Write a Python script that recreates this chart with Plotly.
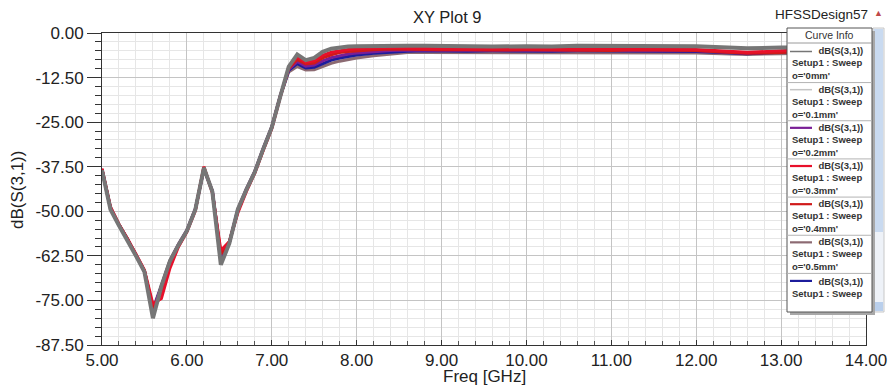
import plotly.graph_objects as go

# ---------------- data ----------------
freq = [5.0, 5.1, 5.2, 5.3, 5.4, 5.5, 5.6, 5.7, 5.8, 5.9, 6.0, 6.1, 6.2, 6.3, 6.4, 6.5,
        6.6, 6.7, 6.8, 6.9, 7.0, 7.1, 7.2, 7.3, 7.4, 7.5, 7.6, 7.7, 7.8, 7.9, 8.0, 8.2,
        8.4, 8.6, 8.8, 9.0, 9.3, 9.6, 10.0, 10.3, 10.6, 11.0, 11.3, 11.6, 12.0, 12.3,
        12.6, 13.0, 13.3, 13.6, 14.0]

s_0mm = [-38.5, -49.5, -54.0, -58.0, -62.5, -67.0, -80.0, -71.0, -64.0, -59.5, -55.5, -49.5,
         -37.8, -44.5, -65.0, -59.0, -49.5, -44.0, -39.0, -32.5, -26.5, -17.8, -9.4, -6.0,
         -7.6, -7.0, -5.3, -4.4, -4.0, -3.8, -3.7, -3.6, -3.6, -3.6, -3.6, -3.7, -3.7, -3.8,
         -3.7, -3.8, -3.6, -3.6, -3.7, -3.7, -3.7, -4.0, -4.3, -4.1, -4.0, -4.0, -4.0]
s_01mm = [-38.0, -48.5, -53.5, -57.5, -62.0, -66.5, -77.0, -70.5, -63.5, -59.0, -55.0, -49.0,
          -38.0, -44.0, -63.0, -58.5, -49.0, -43.5, -38.5, -32.0, -26.0, -17.5, -10.6, -9.0,
          -10.1, -10.0, -9.0, -8.1, -7.5, -7.0, -6.6, -6.1, -5.6, -5.3, -5.3, -5.3, -5.3, -5.4,
          -5.3, -5.4, -5.3, -5.3, -5.3, -5.4, -5.4, -5.6, -5.8, -5.6, -5.4, -5.3, -5.3]
s_02mm = [-38.3, -49.0, -53.8, -57.8, -62.2, -66.8, -77.5, -71.0, -64.0, -59.3, -55.3, -49.3,
          -38.2, -44.3, -62.5, -58.8, -49.5, -43.8, -38.8, -32.3, -26.3, -17.6, -10.2, -8.0,
          -9.3, -9.0, -7.8, -6.9, -6.3, -5.9, -5.6, -5.2, -4.9, -4.8, -4.8, -4.8, -4.9, -4.9,
          -4.8, -4.9, -4.8, -4.8, -4.9, -5.0, -5.0, -5.3, -5.7, -5.2, -4.7, -4.6, -4.6]
s_03mm = [-38.0, -48.8, -53.6, -57.6, -62.0, -66.5, -76.0, -74.5, -66.0, -60.0, -55.8, -49.8,
          -37.5, -44.8, -61.0, -58.5, -50.5, -44.5, -39.3, -32.8, -26.8, -17.9, -9.6, -6.8,
          -8.2, -7.8, -6.3, -5.4, -4.9, -4.6, -4.4, -4.2, -4.1, -4.3, -4.4, -4.4, -4.5, -4.4,
          -4.5, -4.6, -4.5, -4.5, -4.4, -4.5, -4.6, -5.0, -5.4, -5.0, -4.6, -4.5, -4.5]
s_04mm = [-38.2, -49.2, -53.7, -57.7, -62.3, -66.7, -77.0, -73.0, -65.0, -59.8, -55.6, -49.6,
          -37.6, -44.6, -62.0, -58.6, -50.0, -44.2, -39.1, -32.6, -26.6, -17.8, -9.9, -7.4,
          -8.7, -8.4, -7.0, -6.1, -5.5, -5.2, -5.0, -4.7, -4.5, -4.6, -4.7, -4.7, -4.7, -4.8,
          -4.7, -4.8, -4.9, -4.9, -4.7, -4.8, -4.9, -5.3, -5.7, -5.5, -5.1, -4.9, -4.9]
s_05mm = [-38.4, -49.3, -53.9, -57.9, -62.4, -66.9, -78.0, -70.8, -63.8, -59.4, -55.4, -49.4,
          -38.1, -44.4, -63.5, -58.9, -49.6, -43.9, -38.9, -32.4, -26.4, -17.7, -10.9, -9.4,
          -10.4, -10.3, -9.4, -8.5, -7.9, -7.4, -7.0, -6.4, -5.9, -5.5, -5.5, -5.5, -5.6, -5.5,
          -5.6, -5.6, -5.5, -5.6, -5.5, -5.6, -5.6, -5.8, -6.0, -5.8, -5.6, -5.5, -5.5]
s_06mm = [-38.3, -49.1, -53.8, -57.8, -62.3, -66.8, -77.8, -71.2, -64.2, -59.5, -55.5, -49.5,
          -38.0, -44.4, -63.0, -58.8, -49.8, -44.0, -39.0, -32.5, -26.5, -17.7, -10.5, -8.6,
          -9.8, -9.6, -8.5, -7.6, -7.0, -6.6, -6.2, -5.7, -5.3, -5.1, -5.0, -5.1, -5.1, -5.0,
          -5.1, -5.1, -5.0, -5.1, -5.1, -5.2, -5.2, -5.5, -5.8, -5.4, -4.9, -4.8, -4.8]

series_names = ["0mm", "0.1mm", "0.2mm", "0.3mm", "0.4mm", "0.5mm", "0.6mm"]
series_values = [s_0mm, s_01mm, s_02mm, s_03mm, s_04mm, s_05mm, s_06mm]
series_colors = ["#767676", "#c4c4c4", "#7a1f96", "#e8102a", "#d01a1a", "#8c6a72", "#1c1c9c"]
series_widths = [4.0, 2.5, 3.0, 3.0, 3.0, 3.0, 3.0]
draw_order = [1, 5, 6, 2, 4, 3, 0]

y_ticks = [0.0, -12.5, -25.0, -37.5, -50.0, -62.5, -75.0, -87.5]
y_tick_text = ["0.00", "-12.50", "-25.00", "-37.50", "-50.00", "-62.50", "-75.00", "-87.50"]
x_ticks = [5, 6, 7, 8, 9, 10, 11, 12, 13, 14]
x_tick_text = ["5.00", "6.00", "7.00", "8.00", "9.00", "10.00", "11.00", "12.00", "13.00", "14.00"]

# ---------------- layout geometry (pixels) ----------------
W, H = 889, 386
L, R, T, B = 102, 866, 33, 345


def px(x):
    return (x - L) / (R - L)


def py(y):
    return (B - y) / (B - T)


fig = go.Figure()
for i in draw_order:
    fig.add_trace(go.Scatter(
        x=freq, y=series_values[i], mode="lines",
        name="dB(S(3,1)) o='" + series_names[i] + "'",
        line=dict(color=series_colors[i], width=series_widths[i]),
        showlegend=False,
    ))

FONT = "Liberation Sans, Arial, sans-serif"
TXT = "#222222"

shapes = []
annotations = []


def note(x, y, text, size, xanchor="center", color=TXT, angle=0, align="center"):
    annotations.append(dict(x=px(x), y=py(y), xref="paper", yref="paper", text=text,
                            showarrow=False, xanchor=xanchor, yanchor="middle",
                            textangle=angle, align=align,
                            font=dict(family=FONT, size=size, color=color)))


def rect(x0, y0, x1, y1, fill, line_color=None, lw=0):
    shapes.append(dict(type="rect", xref="paper", yref="paper", layer="above",
                       x0=px(x0), x1=px(x1), y0=py(y1), y1=py(y0), fillcolor=fill,
                       line=dict(color=line_color or fill, width=lw)))


def hline(x0, x1, y, color, lw=1):
    shapes.append(dict(type="line", xref="paper", yref="paper", layer="above",
                       x0=px(x0), x1=px(x1), y0=py(y), y1=py(y),
                       line=dict(color=color, width=lw)))


# titles
note(447, 17, "XY Plot 9", 16.5)
note(870, 15, "HFSSDesign57", 13.5, xanchor="right")
note(879, 13, "▲", 9, color="#c04a4a")
note(484, 376, "Freq [GHz]", 17)
note(17, 190, "dB(S(3,1))", 17, angle=-90)

# legend ("Curve Info") panel
lx0, lx1, ly0, ly1 = 787, 872, 28, 312
rect(873, ly0, 884, ly1, "#eef2f8", "#c8c8c8", 1)
rect(874, ly0 + 1, 883, 232, "#c9daf0")
rect(874, 302, 883, 311, "#b9cfec")
rect(lx0 + 3, ly0 + 3, lx1 + 3, ly1 + 3, "#a8a8a8")
rect(lx0, ly0, lx1, ly1, "white", "#555555", 1)
note((lx0 + lx1) / 2, 35.5, "Curve Info", 10.5, color="#333333")
hline(lx0, lx1, 43, "#9a9a9a")

step = 38.17
NB = "&nbsp;" * 10
for k in range(7):
    ydb = 52.7 + step * k
    if k > 0:
        hline(lx0, lx1, ydb - 8.3, "#b4b4b4")
    lw = 1.5 if k in (0, 1) else 2.2
    if k < 6:
        hline(790, 812, ydb - 1.2, series_colors[k], lw)
        txt = ("<b>" + NB + "dB(S(3,1))<br>Setup1 : Sweep<br>o='" + series_names[k] + "'</b>")
        note(790, ydb + 10.7, txt, 9.5, xanchor="left", color="#333333", align="left")
    else:
        hline(790, 812, ydb - 0.8, series_colors[k], lw)
        txt = "<b>" + NB + "dB(S(3,1))<br>Setup1 : Sweep</b>"
        note(790, ydb + 5.4, txt, 9.5, xanchor="left", color="#333333", align="left")

fig.update_layout(
    width=W, height=H,
    margin=dict(l=L, r=W - R, t=T, b=H - B, pad=0, autoexpand=False),
    paper_bgcolor="white", plot_bgcolor="white",
    font=dict(family=FONT, color=TXT),
    shapes=shapes, annotations=annotations,
    showlegend=False,
)

fig.update_xaxes(
    range=[5, 14], tickvals=x_ticks, ticktext=x_tick_text, automargin=False,
    ticks="inside", ticklen=5, tickcolor="#333333",
    tickfont=dict(family=FONT, size=17, color=TXT),
    showgrid=True, gridcolor="#c4c4c4", gridwidth=1,
    minor=dict(dtick=0.2, showgrid=True, gridcolor="#e6e6e6", ticks="inside",
               ticklen=4, tickcolor="#555555"),
    showline=True, linecolor="#333333", linewidth=1, mirror=True,
    zeroline=False,
)
fig.update_yaxes(
    range=[-87.5, 0], tickvals=y_ticks, ticktext=y_tick_text, automargin=False,
    ticks="outside", ticklen=14, tickcolor="#333333",
    tickfont=dict(family=FONT, size=17, color=TXT),
    showgrid=True, gridcolor="#c4c4c4", gridwidth=1,
    minor=dict(dtick=2.5, showgrid=True, gridcolor="#e6e6e6", ticks="outside",
               ticklen=6, tickcolor="#333333"),
    showline=True, linecolor="#333333", linewidth=1, mirror=True,
    zeroline=False,
)

fig.write_html(
    "out.html",
    config={"displayModeBar": False},
    post_script="document.body.style.margin='0';document.body.style.overflow='hidden';",
)
